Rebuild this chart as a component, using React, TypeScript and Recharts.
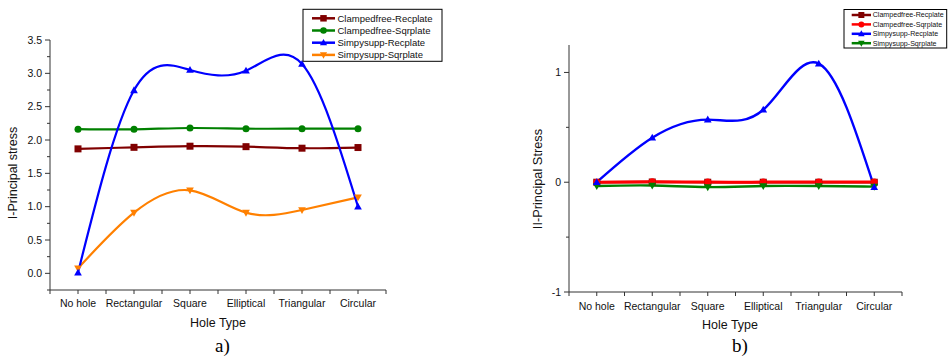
import React from 'react';
import { LineChart, Line, XAxis, YAxis } from 'recharts';

const categories = ['No hole', 'Rectangular', 'Square', 'Elliptical', 'Triangular', 'Circular'];
const xTicks = [-0.5, 0, 0.5, 1, 1.5, 2, 2.5, 3, 3.5, 4, 4.5, 5, 5.5];

// Chart a)
const aClampedRec = [1.867, 1.89, 1.907, 1.9, 1.877, 1.887];
const aClampedSqr = [2.163, 2.16, 2.18, 2.17, 2.17, 2.17];
const aSimplyRec = [0.01, 2.745, 3.05, 3.04, 3.14, 1.0];
const aSimplySqr = [0.075, 0.91, 1.245, 0.91, 0.95, 1.14];
const aYTicks = [-0.25, 0, 0.25, 0.5, 0.75, 1, 1.25, 1.5, 1.75, 2, 2.25, 2.5, 2.75, 3, 3.25, 3.5];
const aYMajor = [0, 0.5, 1, 1.5, 2, 2.5, 3, 3.5];

// Chart b)
const bClampedRec = [0.0, 0.002, 0.0, 0.0, 0.0, 0.0];
const bClampedSqr = [0.0, 0.004, 0.001, 0.001, 0.001, 0.001];
const bSimplyRec = [0.0, 0.405, 0.57, 0.66, 1.08, -0.045];
const bSimplySqr = [-0.035, -0.03, -0.045, -0.035, -0.035, -0.04];
const bYTicks = [-1, -0.5, 0, 0.5, 1];
const bYMajor = [-1, 0, 1];

const seriesNames = ['Clampedfree-Recplate', 'Clampedfree-Sqrplate', 'Simpysupp-Recplate', 'Simpysupp-Sqrplate'];
const aColors = ['#800000', '#008000', '#0000FF', '#FF8000'];
const bColors = ['#800000', '#FF0000', '#0000FF', '#008000'];
const shapes = ['square', 'circle', 'up', 'down'];

const FONT = '"Liberation Sans", Arial, sans-serif';
const SERIF = '"Liberation Serif", "Times New Roman", serif';
const AXIS = '#333';

const dataA = categories.map((c, i) => ({ i, name: c, s0: aClampedRec[i], s1: aClampedSqr[i], s2: aSimplyRec[i], s3: aSimplySqr[i] }));
const dataB = categories.map((c, i) => ({ i, name: c, s0: bClampedRec[i], s1: bClampedSqr[i], s2: bSimplyRec[i], s3: bSimplySqr[i] }));

function markerPath(shape: string, cx: number, cy: number, s: number) {
  const h = s / 2;
  if (shape === 'square') return `M${cx - h},${cy - h}h${s}v${s}h${-s}z`;
  if (shape === 'up') return `M${cx},${cy - h * 1.15}L${cx + h * 1.1},${cy + h * 0.8}L${cx - h * 1.1},${cy + h * 0.8}z`;
  if (shape === 'down') return `M${cx},${cy + h * 1.15}L${cx + h * 1.1},${cy - h * 0.8}L${cx - h * 1.1},${cy - h * 0.8}z`;
  return '';
}

function Marker({ shape, cx, cy, size, color }: any) {
  if (shape === 'circle') return <circle cx={cx} cy={cy} r={size / 2} fill={color} />;
  return <path d={markerPath(shape, cx, cy, size)} fill={color} />;
}

const makeDot = (shape: string, color: string, size: number) => (props: any) => {
  const { cx, cy, index } = props;
  if (cx == null || cy == null) return <g key={`d-${index}`} />;
  return (
    <g key={`d-${shape}-${index}`}>
      <Marker shape={shape} cx={cx} cy={cy} size={size} color={color} />
    </g>
  );
};

const XTick = (labelDy: number) => (props: any) => {
  const { x, y, payload } = props;
  const v = payload.value;
  const isMajor = Number.isInteger(v);
  return (
    <g>
      <line x1={x} y1={y} x2={x} y2={y + 4} stroke={AXIS} strokeWidth={1} />
      {isMajor && (
        <text x={x} y={y + labelDy} textAnchor="middle" fontSize={10.5} fontFamily={FONT} fill="#111">
          {categories[v]}
        </text>
      )}
    </g>
  );
};

const YTick = (major: number[], fmt: (v: number) => string) => (props: any) => {
  const { x, y, payload } = props;
  const v = payload.value;
  const isMajor = major.some((m) => Math.abs(m - v) < 1e-9);
  return (
    <g>
      <line x1={x} y1={y} x2={x - (isMajor ? 5 : 3)} y2={y} stroke={AXIS} strokeWidth={1} />
      {isMajor && (
        <text x={x - 8} y={y} dy="0.35em" textAnchor="end" fontSize={10.5} fontFamily={FONT} fill="#111">
          {fmt(v)}
        </text>
      )}
    </g>
  );
};

function Legend({ x, y, w, h, rowY, rowGap, lineX1, lineX2, textX, fontSize, colors, markerSize, lineW }: any) {
  return (
    <g>
      <rect x={x} y={y} width={w} height={h} fill="#fff" stroke="#000" strokeWidth={1} />
      {seriesNames.map((n, k) => {
        const cy = rowY + k * rowGap;
        return (
          <g key={n}>
            <line x1={lineX1} y1={cy} x2={lineX2} y2={cy} stroke={colors[k]} strokeWidth={lineW} />
            <Marker shape={shapes[k]} cx={(lineX1 + lineX2) / 2} cy={cy} size={markerSize} color={colors[k]} />
            <text x={textX} y={cy} dy="0.35em" fontSize={fontSize} fontFamily={FONT} fill="#111">
              {n}
            </text>
          </g>
        );
      })}
    </g>
  );
}

export default function App() {
  const aOrder = [0, 1, 3, 2];
  const bOrder = [0, 1, 3, 2];
  return (
    <div style={{ position: 'absolute', left: 0, top: 0, width: 952, height: 358, background: '#fff', overflow: 'hidden' }}>
      <div style={{ position: 'absolute', left: 0, top: 0 }}>
        <LineChart width={476} height={358} data={dataA} margin={{ top: 40, right: 90, bottom: 38, left: 20 }}>
          <XAxis
            type="number"
            dataKey="i"
            domain={[-0.5, 5.5]}
            ticks={xTicks}
            interval={0}
            height={30}
            tickSize={0}
            tickMargin={0}
            tickLine={false}
            axisLine={{ stroke: AXIS, strokeWidth: 1 }}
            tick={XTick(17)}
          />
          <YAxis
            type="number"
            domain={[-0.25, 3.5]}
            ticks={aYTicks}
            interval={0}
            width={30}
            tickSize={0}
            tickMargin={0}
            tickLine={false}
            axisLine={{ stroke: AXIS, strokeWidth: 1 }}
            tick={YTick(aYMajor, (v) => v.toFixed(1))}
          />
          {aOrder.map((k) => (
            <Line
              key={k}
              type="natural"
              dataKey={`s${k}`}
              stroke={aColors[k]}
              strokeWidth={2.2}
              dot={makeDot(shapes[k], aColors[k], 7)}
              activeDot={false}
              isAnimationActive={false}
            />
          ))}
        </LineChart>
      </div>
      <div style={{ position: 'absolute', left: 476, top: 0 }}>
        <LineChart width={476} height={358} data={dataB} margin={{ top: 45, right: 50, bottom: 36, left: 63 }}>
          <XAxis
            type="number"
            dataKey="i"
            domain={[-0.5, 5.5]}
            ticks={xTicks}
            interval={0}
            height={30}
            tickSize={0}
            tickMargin={0}
            tickLine={false}
            axisLine={{ stroke: AXIS, strokeWidth: 1 }}
            tick={XTick(17.5)}
          />
          <YAxis
            type="number"
            domain={[-1, 1.25]}
            ticks={bYTicks}
            interval={0}
            width={30}
            tickSize={0}
            tickMargin={0}
            tickLine={false}
            axisLine={{ stroke: AXIS, strokeWidth: 1 }}
            tick={YTick(bYMajor, (v) => String(v))}
          />
          {bOrder.map((k) => (
            <Line
              key={k}
              type="natural"
              dataKey={`s${k}`}
              stroke={bColors[k]}
              strokeWidth={k === 1 ? 3 : 2.4}
              dot={makeDot(shapes[k], bColors[k], 7)}
              activeDot={false}
              isAnimationActive={false}
            />
          ))}
        </LineChart>
      </div>
      <svg width={952} height={358} style={{ position: 'absolute', left: 0, top: 0, pointerEvents: 'none' }}>
        <Legend x={303} y={9.3} w={139} h={52} rowY={18.3} rowGap={12.2} lineX1={312} lineX2={335} textX={337.5}
          fontSize={9.5} colors={aColors} markerSize={6.5} lineW={2.5} />
        <Legend x={844} y={9.5} w={102.7} h={38.5} rowY={15} rowGap={9.4} lineX1={851.7} lineX2={871} textX={872.7}
          fontSize={7.1} colors={bColors} markerSize={6} lineW={2.5} />
        <text x={13} y={173} transform="rotate(-90 13 173)" textAnchor="middle" dy="0.35em" fontSize={12.5} fontFamily={FONT} fill="#111">
          I-Principal stress
        </text>
        <text x={538} y={179} transform="rotate(-90 538 179)" textAnchor="middle" dy="0.35em" fontSize={12.8} fontFamily={FONT} fill="#111">
          II-Principal Stress
        </text>
        <text x={218} y={323} textAnchor="middle" dy="0.35em" fontSize={12.5} fontFamily={FONT} fill="#111">Hole Type</text>
        <text x={730} y={325} textAnchor="middle" dy="0.35em" fontSize={12.5} fontFamily={FONT} fill="#111">Hole Type</text>
        <text x={222.5} y={352} textAnchor="middle" fontSize={19} fontFamily={SERIF} fill="#000">a)</text>
        <text x={740} y={352} textAnchor="middle" fontSize={19} fontFamily={SERIF} fill="#000">b)</text>
      </svg>
    </div>
  );
}
